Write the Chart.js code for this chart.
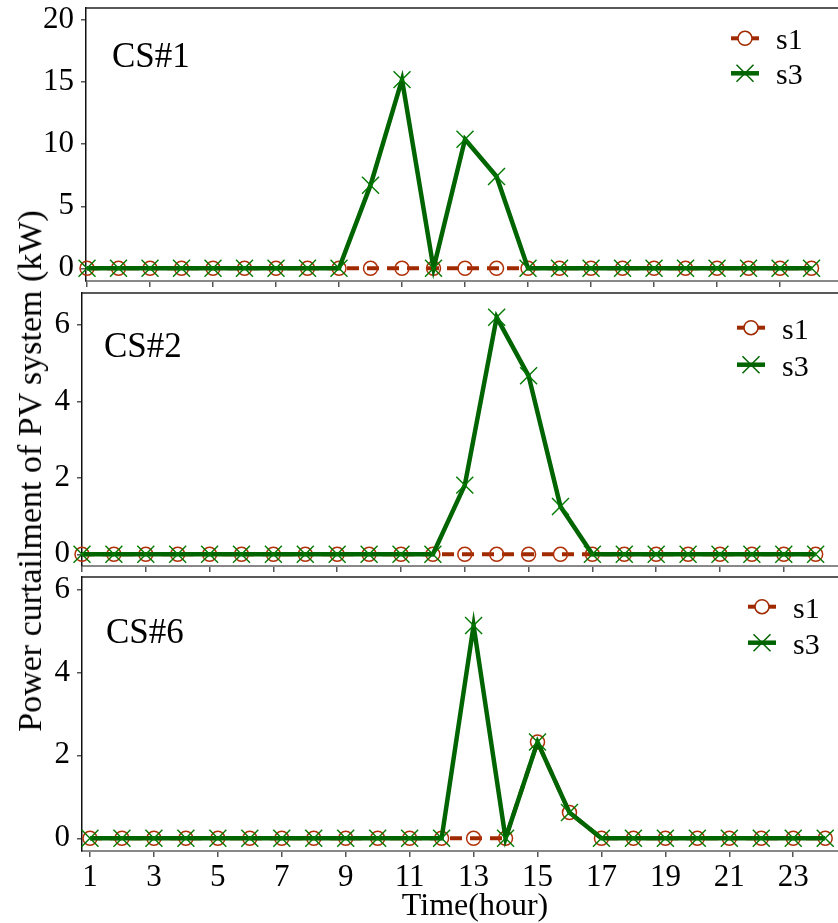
<!DOCTYPE html>
<html>
<head>
<meta charset="utf-8">
<script src="https://cdn.jsdelivr.net/npm/chart.js@4.4.1/dist/chart.umd.min.js"></script>
<style>
  html, body { margin: 0; padding: 0; background: #fff; }
  body { width: 838px; height: 923px; position: relative; overflow: hidden; font-family: "Liberation Serif", "Times New Roman", serif; }
  canvas { position: absolute; left: 0; }
  .title { position: absolute; white-space: nowrap; line-height: 1; color: #000; }
</style>
</head>
<body>
<canvas id="cs1"></canvas>
<canvas id="cs2"></canvas>
<canvas id="cs6"></canvas>
<div class="title" id="ytitle" style="font-size:34px; left:30px; top:471px; transform: translate(-50%, -50%) rotate(-90deg);">Power curtailment of PV system (kW)</div>
<div class="title" id="xtitle" style="font-size:32px; left:475px; top:888px; transform: translateX(-50%);">Time(hour)</div>
<script>
// Hours of the day and the odd-hour tick labels on the time axis
const hours = [1, 2, 3, 4, 5, 6, 7, 8, 9, 10, 11, 12, 13, 14, 15, 16, 17, 18, 19, 20, 21, 22, 23, 24];
const hourTicks = [1, 3, 5, 7, 9, 11, 13, 15, 17, 19, 21, 23];

// PV curtailment (kW) per charging station, scenarios s1 and s3
const cs1S1 = [0, 0, 0, 0, 0, 0, 0, 0, 0, 0, 0, 0, 0, 0, 0, 0, 0, 0, 0, 0, 0, 0, 0, 0];
const cs1S3 = [0, 0, 0, 0, 0, 0, 0, 0, 0, 6.7, 15.2, 0, 10.4, 7.4, 0, 0, 0, 0, 0, 0, 0, 0, 0, 0];
const cs2S1 = [0, 0, 0, 0, 0, 0, 0, 0, 0, 0, 0, 0, 0, 0, 0, 0, 0, 0, 0, 0, 0, 0, 0, 0];
const cs2S3 = [0, 0, 0, 0, 0, 0, 0, 0, 0, 0, 0, 0, 1.81, 6.2, 4.67, 1.25, 0, 0, 0, 0, 0, 0, 0, 0];
const cs6S1 = [0, 0, 0, 0, 0, 0, 0, 0, 0, 0, 0, 0, 0, 0, 2.32, 0.62, 0, 0, 0, 0, 0, 0, 0, 0];
const cs6S3 = [0, 0, 0, 0, 0, 0, 0, 0, 0, 0, 0, 0, 5.13, 0, 2.32, 0.62, 0, 0, 0, 0, 0, 0, 0, 0];

// Y tick values per panel
const cs1YTicks = [0, 5, 10, 15, 20];
const cs2YTicks = [0, 2, 4, 6];
const cs6YTicks = [0, 2, 4, 6];

const seriesNames = ['s1', 's3'];
const S1_COLOR = '#A02A00';
const S3_COLOR = '#006400';
const FONT = '"Liberation Serif", "Times New Roman", serif';
const PAGE_W = 838;
const PAD_TOP = 2;

function toXY(values) {
  return hours.map((h, i) => ({ x: h, y: values[i] }));
}

// Panel caption and line+marker legend drawn inside the plot area
// (vertical offsets are measured from the plot area's top edge)
const panelDecor = {
  id: 'panelDecor',
  afterDatasetsDraw(chart, args, opts) {
    const ctx = chart.ctx;
    const a = chart.chartArea;
    ctx.save();
    // top frame line
    ctx.strokeStyle = '#222';
    ctx.lineWidth = 1.5;
    ctx.beginPath();
    ctx.moveTo(a.left, a.top);
    ctx.lineTo(a.right, a.top);
    ctx.stroke();

    ctx.fillStyle = '#000';
    ctx.textBaseline = 'alphabetic';
    ctx.textAlign = 'left';
    ctx.font = '35px ' + FONT;
    ctx.fillText(opts.caption, opts.captionX, a.top + opts.captionDY);

    const x1 = opts.legendX, x2 = opts.legendX + 28, xm = (x1 + x2) / 2;
    ctx.font = '30px ' + FONT;
    // s1 entry
    let y = a.top + opts.legendDY;
    ctx.strokeStyle = S1_COLOR;
    ctx.lineWidth = 4;
    ctx.beginPath(); ctx.moveTo(x1, y); ctx.lineTo(x2, y); ctx.stroke();
    ctx.fillStyle = '#fff';
    ctx.lineWidth = 1.5;
    ctx.beginPath(); ctx.arc(xm, y, 7, 0, Math.PI * 2); ctx.fill(); ctx.stroke();
    ctx.fillStyle = '#000';
    ctx.fillText(seriesNames[0], opts.legendX + 45, y + 11);
    // s3 entry
    y = a.top + opts.legendDY + opts.legendGap;
    ctx.strokeStyle = S3_COLOR;
    ctx.lineWidth = 4.5;
    ctx.beginPath(); ctx.moveTo(x1, y); ctx.lineTo(x2, y); ctx.stroke();
    ctx.lineWidth = 1.5;
    const r = 8.5;
    ctx.beginPath();
    ctx.moveTo(xm - r, y - r); ctx.lineTo(xm + r, y + r);
    ctx.moveTo(xm - r, y + r); ctx.lineTo(xm + r, y - r);
    ctx.stroke();
    ctx.fillStyle = '#000';
    ctx.fillText(seriesNames[1], opts.legendX + 45, y + 11);
    ctx.restore();
  }
};

function makePanel(id, s1, s3, cfg) {
  // Plot area: x from cfg.left to the page edge, y from cfg.top to cfg.bottom
  const canvas = document.getElementById(id);
  canvas.width = PAGE_W;
  canvas.height = PAD_TOP + (cfg.bottom - cfg.top) + cfg.xHeight;
  canvas.style.top = (cfg.top - PAD_TOP) + 'px';

  return new Chart(canvas, {
    type: 'line',
    data: {
      datasets: [
        {
          label: seriesNames[0],
          data: toXY(s1),
          borderColor: S1_COLOR,
          borderWidth: 4,
          borderDash: [12, 8],
          pointStyle: 'circle',
          pointRadius: 7,
          pointBorderWidth: 1.5,
          pointBorderColor: '#B03008',
          pointBackgroundColor: 'rgba(0,0,0,0)',
          tension: 0,
          clip: false,
          order: 2
        },
        {
          label: seriesNames[1],
          data: toXY(s3),
          borderColor: S3_COLOR,
          borderWidth: 4.5,
          pointStyle: 'crossRot',
          pointRadius: 12,
          pointBorderWidth: 1.4,
          pointBorderColor: '#007A00',
          tension: 0,
          clip: false,
          order: 1
        }
      ]
    },
    options: {
      responsive: false,
      maintainAspectRatio: false,
      animation: false,
      devicePixelRatio: 1,
      layout: { autoPadding: false, padding: { top: PAD_TOP, right: 0, left: 0, bottom: 0 } },
      plugins: {
        legend: { display: false },
        tooltip: { enabled: false },
        panelDecor: cfg.decor
      },
      scales: {
        x: {
          type: 'linear',
          position: 'bottom',
          min: cfg.xMin,
          max: cfg.xMax,
          afterBuildTicks(scale) { scale.ticks = hourTicks.map(v => ({ value: v })); },
          afterFit(scale) {
            scale.height = cfg.xHeight;
            scale.paddingLeft = 0;
            scale.paddingRight = 0;
          },
          grid: { drawOnChartArea: false, drawTicks: true, tickLength: 6, color: '#555', lineWidth: 1.5 },
          border: { display: true, color: '#888', width: 2 },
          ticks: {
            display: cfg.showXLabels,
            autoSkip: false,
            maxRotation: 0,
            padding: 2,
            color: '#000',
            font: { family: FONT, size: 31 }
          }
        },
        y: {
          min: cfg.yMin,
          max: cfg.yMax,
          afterBuildTicks(scale) { scale.ticks = cfg.yTicks.map(v => ({ value: v })); },
          afterFit(scale) {
            scale.width = cfg.left;
            scale.paddingTop = 0;
            scale.paddingBottom = 0;
          },
          grid: { drawOnChartArea: false, drawTicks: true, tickLength: 5, color: '#555', lineWidth: 1.5 },
          border: { display: true, color: '#111', width: 1.5 },
          ticks: {
            padding: 7,
            color: '#000',
            font: { family: FONT, size: 31 }
          }
        }
      }
    },
    plugins: [panelDecor]
  });
}

makePanel('cs1', cs1S1, cs1S3, {
  top: 8, bottom: 281, left: 86,
  xMin: 0.968, xMax: 24.84, yMin: -1.02, yMax: 20.97, yTicks: cs1YTicks,
  xHeight: 8, showXLabels: false,
  decor: { caption: 'CS#1', captionX: 112, captionDY: 58.7, legendX: 731, legendDY: 30.3, legendGap: 35 }
});
makePanel('cs2', cs2S1, cs2S3, {
  top: 293, bottom: 566, left: 82,
  xMin: 1, xMax: 24.7, yMin: -0.306, yMax: 6.837, yTicks: cs2YTicks,
  xHeight: 8, showXLabels: false,
  decor: { caption: 'CS#2', captionX: 104, captionDY: 64, legendX: 737, legendDY: 34.7, legendGap: 37 }
});
makePanel('cs6', cs6S1, cs6S3, {
  top: 577, bottom: 851, left: 82,
  xMin: 0.75, xMax: 24.4, yMin: -0.306, yMax: 6.3, yTicks: cs6YTicks,
  xHeight: 72, showXLabels: true,
  decor: { caption: 'CS#6', captionX: 106, captionDY: 65.7, legendX: 748, legendDY: 29.7, legendGap: 36 }
});
</script>
</body>
</html>
